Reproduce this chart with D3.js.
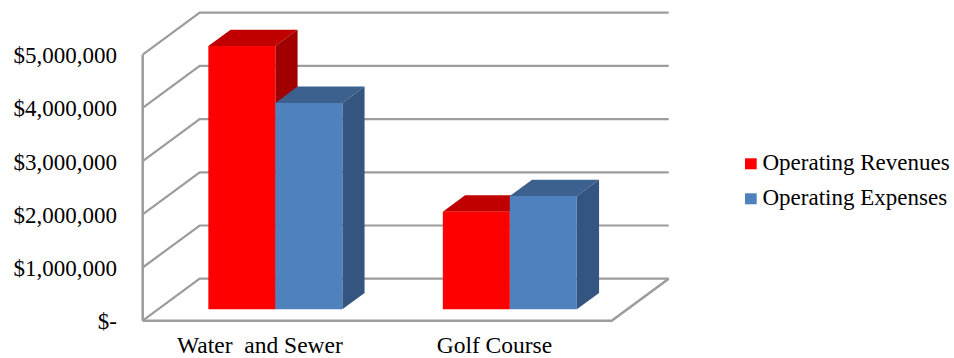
<!DOCTYPE html>
<html>
<head>
<meta charset="utf-8">
<script src="https://cdn.jsdelivr.net/npm/d3@7"></script>
<style>
  body { margin: 0; background: #fff; }
</style>
</head>
<body>
<svg id="chart" width="954" height="358"></svg>
<script>
// data
var categories = ["Water  and Sewer", "Golf Course"];
var seriesNames = ["Operating Revenues", "Operating Expenses"];
var revenues = [4950000, 1835000];
var expenses = [3880000, 2130000];
var yTicks = [0, 1000000, 2000000, 3000000, 4000000, 5000000];

var frontColors = ["#FF0000", "#4F81BD"];
var topColors = ["#C00000", "#3C618F"];
var sideColors = ["#A00000", "#33557F"];

// plot geometry (oblique 3d look)
var floorLeft = 142.7, floorRight = 611.7, floorY = 320.7;
var depthX = 57, depthY = 42;       // full depth of the floor/wall
var barZ0 = 0.27, barZ1 = 0.66;    // bars sit between these depth fractions
var gridColor = "#9C9C9C";
var serif = "Liberation Serif";

var svg = d3.select("#chart");

var y = d3.scaleLinear().domain([0, 5000000]).range([0, 266]);
var x0 = d3.scaleBand().domain(categories).range([floorLeft, floorRight]).padding(0);
var x1 = d3.scaleBand().domain(seriesNames).range([0, x0.bandwidth()])
    .paddingInner(0).paddingOuter(0.75);

// point on screen for x (front plane), value, depth fraction
function proj(px, v, z) {
    return [px + z * depthX, floorY - y(v) - z * depthY];
}

var grid = svg.append("g");

// side wall diagonals + back wall gridlines
yTicks.forEach(function(t) {
    var a = proj(floorLeft, t, 0), b = proj(floorLeft, t, 1), c = proj(floorRight, t, 1);
    grid.append("polyline")
        .attr("points", [a, b, c].map(function(p) { return p.join(","); }).join(" "))
        .attr("fill", "none")
        .attr("stroke", gridColor)
        .attr("stroke-width", 2.2);
});

// wall front edge
var wTop = proj(floorLeft, 5000000, 0), wBot = proj(floorLeft, 0, 0);
grid.append("line")
    .attr("x1", wTop[0]).attr("y1", wTop[1])
    .attr("x2", wBot[0]).attr("y2", wBot[1])
    .attr("stroke", gridColor).attr("stroke-width", 2.5);

// floor front + right edges
var fr = proj(floorRight, 0, 0), frb = proj(floorRight, 0, 1);
grid.append("polyline")
    .attr("points", [wBot, fr, frb].map(function(p) { return p.join(","); }).join(" "))
    .attr("fill", "none")
    .attr("stroke", gridColor)
    .attr("stroke-width", 2.5);

// y tick labels
svg.append("g").selectAll("text")
    .data(yTicks)
    .enter()
    .append("text")
    .attr("x", 117)
    .attr("y", function(d) { return proj(floorLeft, d, 0)[1] + 1; })
    .attr("text-anchor", "end")
    .attr("dominant-baseline", "central")
    .attr("font-family", serif)
    .attr("font-size", 23)
    .text(function(d) { return d === 0 ? "$-" : d3.format("$,")(d); });

// bars
var values = [revenues, expenses];
var bars = svg.append("g");
categories.forEach(function(cat, ci) {
    seriesNames.forEach(function(s, si) {
        var v = values[si][ci];
        var xl = x0(cat) + x1(s), xr = xl + x1.bandwidth();
        var fTL = proj(xl, v, barZ0), fTR = proj(xr, v, barZ0),
            fBR = proj(xr, 0, barZ0), fBL = proj(xl, 0, barZ0),
            bTL = proj(xl, v, barZ1), bTR = proj(xr, v, barZ1),
            bBR = proj(xr, 0, barZ1);
        function poly(pts, col) {
            bars.append("polygon")
                .attr("points", pts.map(function(p) { return p.join(","); }).join(" "))
                .attr("fill", col);
        }
        poly([fTL, bTL, bTR, fTR], topColors[si]);
        poly([fTR, bTR, bBR, fBR], sideColors[si]);
        poly([fTL, fTR, fBR, fBL], frontColors[si]);
    });
});

// category labels
svg.append("g").selectAll("text")
    .data(categories)
    .enter()
    .append("text")
    .attr("x", function(d) { return x0(d) + x0.bandwidth() / 2; })
    .attr("y", 353)
    .attr("text-anchor", "middle")
    .attr("font-family", serif)
    .attr("font-size", 23.5)
    .style("white-space", "pre")
    .text(function(d) { return d; });

// legend
var legend = svg.append("g").selectAll("g")
    .data(seriesNames)
    .enter()
    .append("g")
    .attr("transform", function(d, i) { return "translate(745," + (158.3 + i * 35) + ")"; });
legend.append("rect")
    .attr("width", 11.7).attr("height", 11)
    .attr("fill", function(d, i) { return frontColors[i]; });
legend.append("text")
    .attr("x", 17.5)
    .attr("y", 12)
    .attr("font-family", serif)
    .attr("font-size", 23)
    .text(function(d) { return d; });
</script>
</body>
</html>
